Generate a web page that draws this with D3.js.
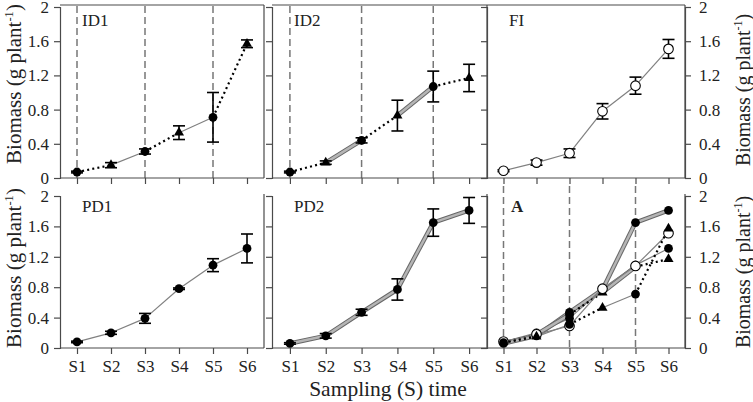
<!DOCTYPE html>
<html>
<head>
<meta charset="utf-8">
<script src="https://cdn.jsdelivr.net/npm/d3@7"></script>
<style>
  body { margin: 0; background: #fff; }
  svg { font-family: "Liberation Serif", "Times New Roman", serif; }
</style>
</head>
<body>
<svg id="chart" width="753" height="402"></svg>
<script>
const samples = ['S1', 'S2', 'S3', 'S4', 'S5', 'S6'];
const yTicks = [0, 0.4, 0.8, 1.2, 1.6, 2];

// means and standard errors
const id1Mean = [0.07, 0.15, 0.31, 0.53, 0.71, 1.57];
const id1Err = [0.01, 0.03, 0.03, 0.08, 0.29, 0.045];
const id2Mean = [0.07, 0.18, 0.44, 0.73, 1.07, 1.17];
const id2Err = [0.01, 0.02, 0.03, 0.18, 0.18, 0.16];
const fiMean = [0.085, 0.18, 0.29, 0.78, 1.08, 1.51];
const fiErr = [0.01, 0.03, 0.05, 0.09, 0.1, 0.11];
const pd1Mean = [0.08, 0.2, 0.39, 0.78, 1.09, 1.31];
const pd1Err = [0.01, 0.02, 0.065, 0.01, 0.085, 0.19];
const pd2Mean = [0.06, 0.16, 0.47, 0.77, 1.65, 1.81];
const pd2Err = [0.01, 0.03, 0.04, 0.14, 0.18, 0.17];

// sampling times with an irrigation marker (dashed lines)
const markedSamples = ['S1', 'S3', 'S5'];

const svg = d3.select('#chart');

const rows = {
    top: { y0: 178, y1: 7 },
    bottom: { y0: 348, y1: 196 }
};
const cols = [
    { x0: 60, x1: 264 },
    { x0: 272, x1: 487 },
    { x0: 487, x1: 685 }
];

// segment and marker styles per series
const series = {
    ID1: { mean: id1Mean, err: id1Err, seg: ['dot', 'thin', 'dot', 'thin', 'dot'], mark: ['c', 't', 'c', 't', 'c', 't'] },
    ID2: { mean: id2Mean, err: id2Err, seg: ['dot', 'thick', 'dot', 'thick', 'dot'], mark: ['c', 't', 'c', 't', 'c', 't'] },
    FI: { mean: fiMean, err: fiErr, seg: ['thin', 'thin', 'thin', 'thin', 'thin'], mark: ['o', 'o', 'o', 'o', 'o', 'o'] },
    PD1: { mean: pd1Mean, err: pd1Err, seg: ['thin', 'thin', 'thin', 'thin', 'thin'], mark: ['c', 'c', 'c', 'c', 'c', 'c'] },
    PD2: { mean: pd2Mean, err: pd2Err, seg: ['thick', 'thick', 'thick', 'thick', 'thick'], mark: ['c', 'c', 'c', 'c', 'c', 'c'] }
};

const axisColor = '#4a4a4a';
const textColor = '#222';

function panel({ row, col, names, label, bold, leftLabels, rightLabels, top, dashed, errors, dashTop }) {
    const r = rows[row], c = cols[col];
    const x = d3.scalePoint().domain(samples).range([c.x0, c.x1]).padding(0.5);
    const y = d3.scaleLinear().domain([0, 2]).range([r.y0, r.y1]);
    const g = svg.append('g');

    if (dashed) {
        g.selectAll('line.dash')
            .data(markedSamples)
            .join('line')
            .attr('x1', d => x(d)).attr('x2', d => x(d))
            .attr('y1', dashTop).attr('y2', r.y0)
            .attr('stroke', '#777')
            .attr('stroke-width', 1.5)
            .attr('stroke-dasharray', '7,4');
    }

    // frame
    if (top) {
        g.append('line').attr('x1', c.x0).attr('x2', c.x1).attr('y1', r.y1 - 2).attr('y2', r.y1 - 2)
            .attr('stroke', axisColor).attr('stroke-width', 1.2);
    }
    g.append('line').attr('x1', c.x1).attr('x2', c.x1).attr('y1', r.y1 - 2).attr('y2', r.y0)
        .attr('stroke', axisColor).attr('stroke-width', 1.2);

    const fmt = d => (d === 0 || d === 2) ? d : d.toFixed(1);

    g.append('g').attr('transform', `translate(${c.x0},0)`)
        .call(d3.axisLeft(y).tickValues(yTicks).tickSize(6).tickPadding(5)
            .tickFormat(leftLabels ? fmt : ''));
    if (rightLabels) {
        g.append('g').attr('transform', `translate(${c.x1},0)`)
            .call(d3.axisRight(y).tickValues(yTicks).tickSize(6).tickPadding(8).tickFormat(fmt));
    }
    const xAxis = g.append('g').attr('transform', `translate(0,${r.y0})`)
        .call(d3.axisBottom(x).tickSize(6).tickPadding(6)
            .tickFormat(row === 'bottom' ? d => d : ''));
    xAxis.select('.domain').attr('d', `M${c.x0},0H${c.x1}`);

    svg.selectAll('.tick text').attr('font-size', 17).attr('fill', textColor)
        .attr('font-family', '"Liberation Serif", serif');
    svg.selectAll('.domain, .tick line').attr('stroke', axisColor).attr('stroke-width', 1.2);

    // lines
    names.forEach(name => {
        const s = series[name];
        const segs = d3.range(5).map(i => ({
            type: s.seg[i],
            a: [x(samples[i]), y(s.mean[i])],
            b: [x(samples[i + 1]), y(s.mean[i + 1])]
        }));
        segs.forEach(d => {
            if (d.type === 'thick') {
                g.append('line').attr('x1', d.a[0]).attr('y1', d.a[1]).attr('x2', d.b[0]).attr('y2', d.b[1])
                    .attr('stroke', '#666').attr('stroke-width', 4.5);
                g.append('line').attr('x1', d.a[0]).attr('y1', d.a[1]).attr('x2', d.b[0]).attr('y2', d.b[1])
                    .attr('stroke', '#b5b5b5').attr('stroke-width', 2.5);
            } else if (d.type === 'thin') {
                g.append('line').attr('x1', d.a[0]).attr('y1', d.a[1]).attr('x2', d.b[0]).attr('y2', d.b[1])
                    .attr('stroke', '#808080').attr('stroke-width', 1.2);
            } else {
                g.append('line').attr('x1', d.a[0]).attr('y1', d.a[1]).attr('x2', d.b[0]).attr('y2', d.b[1])
                    .attr('stroke', '#000').attr('stroke-width', 2.2).attr('stroke-dasharray', '2,3.2');
            }
        });
    });

    // error bars
    if (errors) {
        names.forEach(name => {
            const s = series[name];
            const eb = g.append('g').selectAll('g')
                .data(samples.map((k, i) => ({ k, m: s.mean[i], e: s.err[i] })))
                .join('g')
                .attr('stroke', '#000').attr('stroke-width', 1.6);
            eb.append('line').attr('x1', d => x(d.k)).attr('x2', d => x(d.k))
                .attr('y1', d => y(d.m - d.e)).attr('y2', d => y(d.m + d.e));
            eb.append('line').attr('x1', d => x(d.k) - 6).attr('x2', d => x(d.k) + 6)
                .attr('y1', d => y(d.m - d.e)).attr('y2', d => y(d.m - d.e));
            eb.append('line').attr('x1', d => x(d.k) - 6).attr('x2', d => x(d.k) + 6)
                .attr('y1', d => y(d.m + d.e)).attr('y2', d => y(d.m + d.e));
        });
    }

    // markers
    names.forEach(name => {
        const s = series[name];
        samples.forEach((k, i) => {
            const px = x(k), py = y(s.mean[i]);
            const m = s.mark[i];
            if (m === 't') {
                g.append('path').attr('d', d3.symbol(d3.symbolTriangle, 44)())
                    .attr('transform', `translate(${px},${py})`).attr('fill', '#000');
            } else if (m === 'o') {
                g.append('circle').attr('cx', px).attr('cy', py).attr('r', 4.8)
                    .attr('fill', '#fff').attr('stroke', '#000').attr('stroke-width', 1.1);
            } else {
                g.append('circle').attr('cx', px).attr('cy', py).attr('r', 4.4).attr('fill', '#000');
            }
        });
    });

    g.append('text')
        .attr('x', c.x0 + (label === 'A' ? 24 : 22))
        .attr('y', r.y1 + (row === 'top' ? 19 : 16))
        .attr('font-size', 17)
        .attr('font-weight', bold ? 'bold' : 'normal')
        .attr('fill', textColor)
        .text(label);
}

panel({ row: 'top', col: 0, names: ['ID1'], label: 'ID1', leftLabels: true, top: true, dashed: true, errors: true, dashTop: 6 });
panel({ row: 'top', col: 1, names: ['ID2'], label: 'ID2', top: true, dashed: true, errors: true, dashTop: 6 });
panel({ row: 'top', col: 2, names: ['FI'], label: 'FI', rightLabels: true, top: true, errors: true });
panel({ row: 'bottom', col: 0, names: ['PD1'], label: 'PD1', leftLabels: true, errors: true });
panel({ row: 'bottom', col: 1, names: ['PD2'], label: 'PD2', errors: true });
panel({ row: 'bottom', col: 2, names: ['PD2', 'PD1', 'ID2', 'FI', 'ID1'], label: 'A', bold: true, rightLabels: true, dashed: true, dashTop: 186 });

// axis titles
function yTitle(xPos, yPos, size) {
    const t = svg.append('text')
        .attr('transform', `translate(${xPos},${yPos}) rotate(-90)`)
        .attr('text-anchor', 'middle')
        .attr('font-size', size)
        .attr('fill', textColor);
    t.append('tspan').text('Biomass (g plant');
    t.append('tspan').attr('font-size', size * 0.6).attr('dy', -8).text('-1');
    t.append('tspan').attr('dy', 8).text(')');
}
yTitle(21, 84, 21);
yTitle(21, 268, 21);
yTitle(750, 90, 20);
yTitle(750, 272, 20);

svg.append('text')
    .attr('x', 388).attr('y', 396)
    .attr('text-anchor', 'middle')
    .attr('font-size', 21.5)
    .attr('fill', textColor)
    .text('Sampling (S) time');
</script>
</body>
</html>
